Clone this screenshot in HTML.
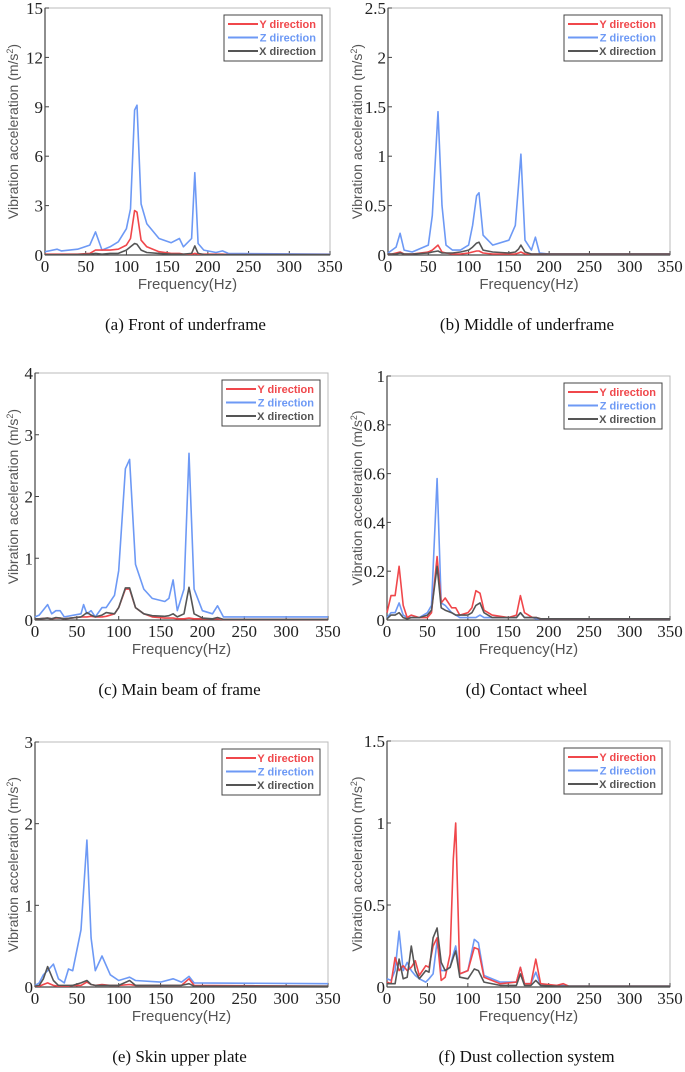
<!DOCTYPE html>
<html><head><meta charset="utf-8"><style>
body{margin:0;background:#fff;width:685px;height:1072px;overflow:hidden}
svg{display:block}
</style></head><body>
<svg id="fig" width="685" height="1072" xmlns="http://www.w3.org/2000/svg"></svg>
<script>
// Panel (a) Front of underframe
const fA=[0,5,15,20,40,55,62,70,80,90,100,105,110,113,118,125,140,155,165,170,180,184,188,195,210,218,225,260,350];
const zA=[0.2,0.25,0.35,0.25,0.35,0.6,1.4,0.3,0.5,0.8,1.6,2.8,8.8,9.1,3.1,1.9,1.0,0.75,1.0,0.5,1.0,5.0,0.7,0.3,0.15,0.25,0.1,0.08,0.05];
const yA=[0.05,0.05,0.05,0.05,0.05,0.1,0.3,0.3,0.3,0.35,0.6,1.0,2.7,2.6,0.9,0.5,0.2,0.1,0.1,0.05,0.05,0.1,0.05,0.05,0.05,0.05,0.03,0.02,0.02];
const xA=[0.02,0.02,0.02,0.02,0.03,0.05,0.1,0.05,0.1,0.1,0.3,0.5,0.7,0.65,0.3,0.15,0.1,0.05,0.05,0.05,0.1,0.55,0.1,0.03,0.02,0.02,0.02,0.02,0.02];
// Panel (b) Middle of underframe
const fB=[0,5,10,15,20,30,50,55,62,67,72,80,90,100,105,110,113,118,130,150,158,162,165,170,178,183,188,200,350];
const zB=[0.02,0.05,0.08,0.22,0.05,0.03,0.1,0.4,1.45,0.5,0.1,0.05,0.05,0.1,0.3,0.6,0.63,0.2,0.1,0.15,0.3,0.7,1.02,0.15,0.05,0.18,0.02,0.01,0.01];
const yB=[0.01,0.01,0.02,0.03,0.01,0.01,0.03,0.05,0.1,0.03,0.02,0.01,0.01,0.02,0.03,0.04,0.04,0.02,0.01,0.01,0.01,0.02,0.03,0.01,0.01,0.01,0.01,0.01,0.01];
const xB=[0.01,0.01,0.01,0.02,0.01,0.01,0.02,0.03,0.04,0.02,0.02,0.02,0.03,0.05,0.08,0.12,0.13,0.05,0.03,0.02,0.03,0.06,0.1,0.03,0.01,0.01,0.01,0.01,0.01];
// Panel (c) Main beam of frame
const fC=[0,5,15,20,25,30,35,55,58,62,67,72,80,85,95,100,108,113,120,130,140,155,160,165,170,178,184,190,200,212,218,225,350];
const zC=[0.05,0.08,0.25,0.1,0.15,0.15,0.05,0.1,0.25,0.1,0.15,0.05,0.2,0.2,0.4,0.8,2.45,2.6,0.9,0.5,0.35,0.3,0.35,0.65,0.15,0.5,2.7,0.5,0.15,0.1,0.23,0.05,0.05];
const yC=[0.02,0.02,0.03,0.02,0.03,0.03,0.02,0.05,0.05,0.05,0.06,0.05,0.05,0.06,0.1,0.2,0.5,0.5,0.2,0.1,0.05,0.03,0.03,0.03,0.02,0.02,0.03,0.02,0.02,0.02,0.02,0.01,0.01];
const xC=[0.02,0.02,0.03,0.02,0.04,0.03,0.02,0.05,0.08,0.12,0.08,0.05,0.08,0.12,0.1,0.2,0.52,0.52,0.2,0.1,0.07,0.06,0.07,0.1,0.05,0.1,0.53,0.1,0.03,0.02,0.04,0.01,0.01];
// Panel (d) Contact wheel
const fD=[0,5,10,15,20,25,30,40,50,55,62,67,72,80,85,90,100,105,110,115,120,130,150,160,165,170,180,185,190,350];
const yD=[0.03,0.1,0.1,0.22,0.06,0.01,0.02,0.01,0.01,0.03,0.26,0.07,0.09,0.05,0.05,0.02,0.03,0.05,0.12,0.11,0.04,0.02,0.01,0.02,0.1,0.03,0.01,0.01,0.005,0.005];
const zD=[0.01,0.03,0.03,0.07,0.02,0.01,0.01,0.01,0.03,0.06,0.58,0.07,0.06,0.03,0.02,0.01,0.01,0.01,0.01,0.02,0.01,0.01,0.01,0.01,0.03,0.01,0.01,0.005,0.005,0.005];
const xD=[0.005,0.02,0.02,0.03,0.01,0.005,0.01,0.01,0.02,0.04,0.22,0.05,0.04,0.03,0.02,0.02,0.02,0.03,0.06,0.07,0.03,0.01,0.01,0.01,0.03,0.01,0.01,0.01,0.005,0.005];
// Panel (e) Skin upper plate
const fE=[0,5,10,15,22,28,35,40,45,55,62,67,72,80,90,100,113,120,150,165,175,184,190,350];
const zE=[0.02,0.05,0.15,0.2,0.28,0.1,0.05,0.22,0.2,0.7,1.8,0.6,0.2,0.38,0.15,0.08,0.12,0.08,0.06,0.1,0.06,0.13,0.05,0.04];
const yE=[0.01,0.01,0.03,0.05,0.02,0.01,0.01,0.01,0.02,0.02,0.06,0.03,0.02,0.03,0.02,0.02,0.03,0.02,0.02,0.02,0.02,0.1,0.02,0.01];
const xE=[0.01,0.02,0.1,0.25,0.08,0.02,0.02,0.02,0.02,0.05,0.08,0.03,0.02,0.02,0.02,0.02,0.08,0.02,0.02,0.02,0.02,0.04,0.01,0.01];
// Panel (f) Dust collection system
const fF=[0,5,10,15,20,25,30,35,40,48,52,57,62,67,72,78,82,85,90,100,108,113,120,140,160,165,170,178,184,190,210,218,225,350];
const yF=[0.03,0.02,0.18,0.1,0.13,0.1,0.12,0.16,0.07,0.13,0.12,0.25,0.3,0.04,0.06,0.2,0.78,1.0,0.08,0.1,0.24,0.23,0.06,0.02,0.03,0.12,0.02,0.02,0.17,0.02,0.01,0.02,0.005,0.005];
const zF=[0.05,0.04,0.1,0.34,0.1,0.15,0.1,0.07,0.05,0.03,0.05,0.08,0.28,0.1,0.1,0.12,0.2,0.25,0.08,0.1,0.29,0.27,0.07,0.03,0.03,0.12,0.02,0.02,0.09,0.01,0.01,0.01,0.005,0.005];
const xF=[0.02,0.02,0.02,0.17,0.05,0.06,0.25,0.1,0.05,0.1,0.09,0.3,0.36,0.15,0.1,0.12,0.18,0.22,0.06,0.05,0.11,0.1,0.03,0.01,0.01,0.08,0.01,0.01,0.04,0.01,0.005,0.005,0.005,0.005];

const xTicks=[0,50,100,150,200,250,300,350];
const panels=[
 {id:'a',L:45,T:8,R:330,B:255,tx:13,max:15,yt:[0,3,6,9,12,15],f:fA,y:yA,z:zA,x:xA,cap:'(a) Front of underframe'},
 {id:'b',L:388,T:8,R:670,B:255,tx:357,max:2.5,yt:[0,0.5,1,1.5,2,2.5],f:fB,y:yB,z:zB,x:xB,cap:'(b) Middle of underframe'},
 {id:'c',L:35,T:373,R:328,B:620,tx:13,max:4,yt:[0,1,2,3,4],f:fC,y:yC,z:zC,x:xC,cap:'(c) Main beam of frame'},
 {id:'d',L:387,T:376,R:670,B:620,tx:357,max:1,yt:[0,0.2,0.4,0.6,0.8,1],f:fD,y:yD,z:zD,x:xD,cap:'(d) Contact wheel'},
 {id:'e',L:35,T:742,R:328,B:987,tx:13,max:3,yt:[0,1,2,3],f:fE,y:yE,z:zE,x:xE,cap:'(e) Skin upper plate'},
 {id:'f',L:387,T:741,R:670,B:987,tx:357,max:1.5,yt:[0,0.5,1,1.5],f:fF,y:yF,z:zF,x:xF,cap:'(f) Dust collection system'}
];
const NS='http://www.w3.org/2000/svg';
const svg=document.getElementById('fig');
function mk(tag,attrs,parent,text){const e=document.createElementNS(NS,tag);for(const k in attrs)e.setAttribute(k,attrs[k]);if(text!==undefined)e.textContent=text;parent.appendChild(e);return e;}
const RED='#f0474b',BLUE='#6d99f5',GRAY='#555';
panels.forEach(p=>{
 const g=mk('g',{},svg);
 
 
 const sx=v=>p.L+(v/350)*(p.R-p.L);
 const sy=v=>p.B-(v/p.max)*(p.B-p.T);
 const frame=mk('rect',{x:p.L,y:p.T,width:p.R-p.L,height:p.B-p.T,fill:'none',stroke:'#bbb','stroke-width':1},g);
 
 
 mk('line',{x1:p.L,y1:p.T,x2:p.L,y2:p.B,stroke:'#444','stroke-width':1.2},g);
 mk('line',{x1:p.L,y1:p.B,x2:p.R,y2:p.B,stroke:'#444','stroke-width':1.2},g);
 xTicks.forEach(t=>{
  mk('line',{x1:sx(t),y1:p.B,x2:sx(t),y2:p.B-4,stroke:'#444'},g);
  const tx=mk('text',{x:sx(t),y:p.B+17,'text-anchor':'middle','font-family':'Liberation Serif, serif','font-size':'17',fill:'#222'},g,String(t));
  
  
 });
 p.yt.forEach(t=>{
  mk('line',{x1:p.L,y1:sy(t),x2:p.L+4,y2:sy(t),stroke:'#444'},g);
  const ty=mk('text',{x:p.L-2,y:sy(t)+6,'text-anchor':'end','font-family':'Liberation Serif, serif','font-size':'17',fill:'#222'},g,String(t));
  
  
 });
 const xt=mk('text',{x:(p.L+p.R)/2,y:p.B+34,'text-anchor':'middle','font-family':'Liberation Sans, sans-serif','font-size':'15',fill:'#555'},g,'Frequency(Hz)');
 
 
 const yti=mk('text',{x:0,y:0,transform:`translate(${p.tx+5},${(p.T+p.B)/2}) rotate(-90)`,'text-anchor':'middle','font-family':'Liberation Sans, sans-serif','font-size':'14',fill:'#555'},g);
 
 
 yti.innerHTML='Vibration acceleration (m/s<tspan dy="-5" font-size="9">2</tspan><tspan dy="5">)</tspan>';
 [[p.z,BLUE,'z'],[p.y,RED,'y'],[p.x,GRAY,'x']].forEach(([arr,c,n])=>{
  const d=arr.map((v,i)=>(i?'L':'M')+sx(p.f[i]).toFixed(1)+','+sy(v).toFixed(1)).join('');
  const pl=mk('path',{d:d,fill:'none',stroke:c,'stroke-width':1.6,'stroke-linejoin':'round'},g);
  
  
 });
 const lx=p.R-106,ly=p.T+7;
 const lg=mk('g',{},g);
 
 
 mk('rect',{x:lx,y:ly,width:98,height:46,fill:'#fff',stroke:'#444','stroke-width':1},lg);
 [['Y direction',RED],['Z direction',BLUE],['X direction',GRAY]].forEach(([t,c],i)=>{
  const yy=ly+9+i*13.5;
  mk('line',{x1:lx+4,y1:yy,x2:lx+34,y2:yy,stroke:c,'stroke-width':2},lg);
  const le=mk('text',{x:lx+92,y:yy+4,'text-anchor':'end','font-family':'Liberation Sans, sans-serif','font-size':'11','font-weight':'bold',fill:c},lg,t);
  
  
 });
 const cap=mk('text',{x:(p.L+p.R)/2-2,y:p.B+75,'text-anchor':'middle','font-family':'Liberation Serif, serif','font-size':'17',fill:'#111'},g,p.cap);
 
 
});
</script>
</body></html>
